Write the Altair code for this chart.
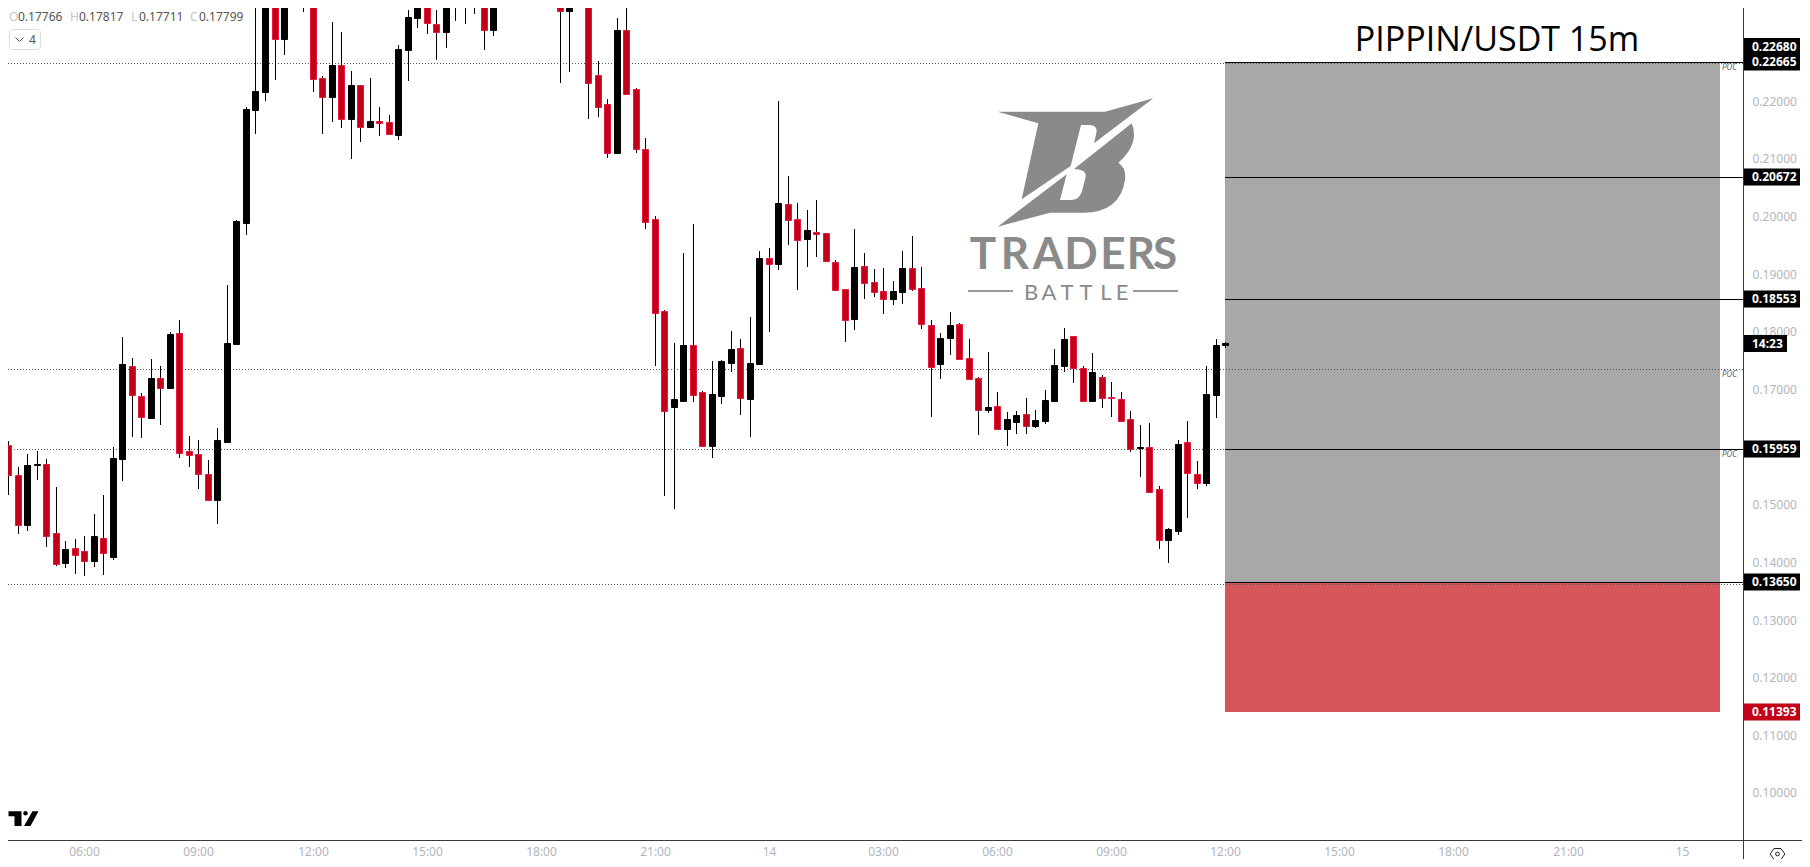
import altair as alt
import pandas as pd

# Prices are quoted in 1e-5 units
BARS = list(range(-9, 44)) + list(range(50, 121))
HIGH = [16705,16098,15647,15872,15925,15786,15300,14363,14398,14450,
        14831,15161,15994,17901,17537,16930,17520,17398,17988,18196,
        16184,16115,15768,16323,18804,19931,21891,23920,24181,24094,
        24267,24788,24961,24614,22429,23365,23192,22515,22273,22394,
        21891,21752,22966,23574,24094,24094,23574,24267,24788,24788,
        24614,24614,24527,
        24614,24614,24267,23886,22689,22030,23435,23920,22221,21353,20001,
        18370,17797,19359,19861,16965,17485,17502,18005,17867,18248,
        19393,19445,21995,20694,20226,20105,20278,19705,19237,18734,
        19775,19359,19081,19099,18873,19393,19654,19116,18196,17970,
        18335,18145,17867,17207,17641,16947,16601,16618,16843,16636,
        16982,17693,18058,17919,17398,17624,17242,17121,16947,16618,
        16375,16410,15317,14588,16115,16444,15751,17398,17867,17817]
BODY_TOP = [16705,16028,15508,15682,15699,15699,14502,14224,14241,14190,
        14450,14415,15803,17433,17398,16878,17190,17190,17953,17970,
        15925,15872,15525,16115,17797,19914,21856,22169,24007,24007,
        24094,24441,24614,24441,22394,22620,22620,22273,22273,21648,
        21648,21631,22897,23452,23920,23920,23331,24094,24441,24267,
        24267,24441,24267,
        24267,24267,24094,23678,22446,21943,23227,23227,22203,21163,19949,
        18352,16826,17763,17763,16947,16913,17485,17693,17711,17450,
        19272,19272,20226,20209,19949,19757,19723,19705,19203,18734,
        19116,19134,18855,18699,18699,19099,19099,18751,18110,17884,
        18110,18127,17537,17190,16688,16705,16479,16549,16566,16462,
        16809,17416,17867,17919,17364,17294,17207,16861,16826,16479,
        15994,15994,15265,14571,16046,16081,15525,16913,17763,17799]
BODY_BOTTOM = [16063,15508,14640,14640,15682,14450,13964,13982,14120,14016,
        14016,14155,14085,15786,16895,16514,16497,17017,17017,15890,
        15855,15525,15074,15074,16081,17780,19879,21839,22151,23070,
        23070,23834,23886,22377,22064,22064,21683,21683,21544,21544,
        21613,21423,21405,22880,23435,23348,23192,23192,23834,23834,
        23886,23227,23227,
        23556,23556,23660,22307,21891,21093,21093,22117,21163,19896,18318,
        16618,16688,16792,16895,16011,16011,16878,17450,16843,16826,
        17433,19168,19168,19931,19584,19601,19688,19220,18717,18196,
        18214,18838,18682,18560,18560,18682,18734,18127,17381,17433,
        17884,17520,17173,16636,16636,16306,16306,16427,16358,16358,
        16444,16792,17398,17364,16792,16792,16843,16843,16444,15959,
        15977,15213,14380,14380,14536,15542,15369,15369,16895,17766]
LOW = [16063,15161,14484,14536,15421,14259,13929,13894,13790,13755,
        13912,13773,14034,15404,16167,16150,16497,16375,17000,15803,
        15647,15265,15074,14657,16081,17780,19671,21423,21995,22359,
        22793,23626,23539,22151,21423,21631,21527,20989,21284,21527,
        21388,21405,21319,22342,23261,23157,22706,22914,23383,23331,
        23504,22880,23123,
        22307,22498,23660,21683,21717,21006,21093,22099,21093,19775,17398,
        15143,14918,16792,16774,16011,15803,16739,17294,16549,16167,
        17433,17988,19063,19497,18717,19116,19289,19203,18717,17815,
        18023,18560,18595,18300,18456,18474,18699,18040,16514,17173,
        17589,17520,17156,16202,16584,16288,16011,16219,16219,16323,
        16392,16792,17294,17104,16792,16792,16670,16514,16427,15907,
        15473,15195,14224,13982,14467,14761,15265,15317,16497,17711]
DIRECTION = list("RRRKKRRKRR" "KRKKRRKRKR" "RRRKKKKKKR" "KRKRRKRKRK" "RRKKKRRKRK" "RRK"
                 "RKRRRRKRRRR" "RKKRRKKKRK" "KRKRRKRRRR" "KRRRKKRRRK" "KRRRKRKKRK"
                 "KKKRRKRRRR" "KRRKKRRKKK")

TIME_TICKS = [0, 12, 24, 36, 48, 60, 72, 84, 96, 108, 120, 132, 144, 156, 168]
TIME_LABELS = ["06:00", "09:00", "12:00", "15:00", "18:00", "21:00", "14", "03:00",
               "06:00", "09:00", "12:00", "15:00", "18:00", "21:00", "15"]
PRICE_TICKS = [0.10, 0.11, 0.12, 0.13, 0.14, 0.15, 0.17, 0.18, 0.19, 0.20, 0.21, 0.22]

POS_TOP, POS_BOTTOM, LOSS = 0.22665, 0.13650, 0.11393
TARGETS = [0.22665, 0.20672, 0.18553, 0.15959, 0.13650]
DOTTED = [0.22655, 0.17341, 0.15959, 0.13622]
TAG_PRICES = ["0.22665", "0.20672", "0.18553", "0.15959", "0.13650"]
POC_PRICES = [0.22665, 0.17341, 0.15959]
BOX_START, BOX_END = 120, 172.03
XMIN, XMAX = -8.03, 174.45
YMIN, YMAX = 0.09176, 0.23608

n = len(BARS)
assert all(len(a) == n for a in (HIGH, BODY_TOP, BODY_BOTTOM, LOW, DIRECTION))
candles = pd.DataFrame({
    "bar": BARS,
    "high": [v * 1e-5 for v in HIGH],
    "top": [v * 1e-5 for v in BODY_TOP],
    "bottom": [v * 1e-5 for v in BODY_BOTTOM],
    "low": [v * 1e-5 for v in LOW],
    "dir": DIRECTION,
})

W, H = 1735, 832
PAD_R, PAD_B = 59, 19
xs = alt.Scale(domain=[XMIN, XMAX], round=True, nice=False, zero=False, padding=0)
ys = alt.Scale(domain=[YMIN, YMAX], round=True, nice=False, zero=False, padding=0)
TICK_GREY = "#b2b5be"
FONT = "Noto Sans"
one = pd.DataFrame({"k": [0]})

X_AXIS = alt.Axis(values=TIME_TICKS, labelExpr="%s[datum.value/12]" % str(TIME_LABELS),
                  domain=False, ticks=False, grid=False, labelColor=TICK_GREY, labelFont=FONT,
                  labelFontSize=12, labelPadding=6, labelOverlap=False, labelFlush=False,
                  labelAngle=0, title=None, orient="bottom")
Y_AXIS = alt.Axis(orient="right", values=PRICE_TICKS, format=".5f", domain=False, ticks=False,
                  grid=False, labelColor=TICK_GREY, labelFont=FONT, labelFontSize=12,
                  labelPadding=9, labelOverlap=False, labelFlush=False, labelAlign="left", title=None)


def X(field):
    return alt.X(field, type="quantitative", scale=xs, axis=X_AXIS)


def Y(field):
    return alt.Y(field, type="quantitative", scale=ys, axis=Y_AXIS)


def text(s, x, y, size=12, color="#000000", align="left", baseline="middle", font=FONT, **kw):
    return alt.Chart(one).mark_text(align=align, baseline=baseline, font=font, fontSize=size,
                                    color=color, **kw).encode(
        x=alt.value(x - 8), y=alt.value(y - 8), text=alt.value(s))


def shape(path, x, y, scale=1.0, **kw):
    return alt.Chart(one).mark_point(shape=path, size=(2 * scale) ** 2, opacity=1, **kw).encode(
        x=alt.value(x - 8), y=alt.value(y - 8))


# risk boxes
boxes = pd.DataFrame({"x": [BOX_START, BOX_START], "x2": [BOX_END, BOX_END],
                      "y": [POS_TOP, POS_BOTTOM], "y2": [POS_BOTTOM, LOSS],
                      "kind": ["zone", "stop"]})
box_layer = alt.Chart(boxes).mark_rect().encode(
    x=X("x"), x2="x2", y=Y("y"), y2="y2",
    color=alt.Color("kind:N", legend=None,
                    scale=alt.Scale(domain=["zone", "stop"], range=["#a8a8a8", "#d4565b"])),
)

dotted = alt.Chart(pd.DataFrame({"y": DOTTED, "x": [XMIN] * 4, "x2": [XMAX] * 4})).mark_rule(
    color="#555555", strokeWidth=1, strokeDash=[1, 2], yOffset=0.5).encode(
    x=X("x"), x2="x2", y=Y("y"))

solid = alt.Chart(pd.DataFrame({"y": TARGETS, "x": [BOX_START] * 5, "x2": [XMAX] * 5})).mark_rule(
    color="#000000", strokeWidth=1, yOffset=0.5).encode(
    x=X("x"), x2="x2", y=Y("y"))

wicks = alt.Chart(candles).mark_rule(color="#000000", strokeWidth=1, xOffset=0.5, clip=True).encode(
    x=X("bar"), y=Y("high"), y2="low")

dir_dom = ["R", "K"]
bodies = alt.Chart(candles).mark_bar(size=6, strokeWidth=1, xOffset=0.5, yOffset=0.5, y2Offset=0.5,
                                     clip=True).encode(
    x=X("bar"), y=Y("top"), y2="bottom",
    color=alt.Color("dir:N", legend=None, scale=alt.Scale(domain=dir_dom, range=["#c40018", "#000000"])),
    stroke=alt.Stroke("dir:N", legend=None, scale=alt.Scale(domain=dir_dom, range=["#e3193d", "#000000"])),
)

# chrome lines
axis_v = alt.Chart(one).mark_rule(color="#3a3a3a", strokeWidth=1).encode(
    x=alt.value(W + 0.5), y=alt.value(0), y2=alt.value(H + PAD_B))
axis_h = alt.Chart(one).mark_rule(color="#3a3a3a", strokeWidth=1).encode(
    x=alt.value(0), x2=alt.value(W + PAD_R), y=alt.value(H + 0.5))

# price tags
tag_df = pd.DataFrame({"y": [float(t) for t in TAG_PRICES], "label": TAG_PRICES})
tag_x = dict(x=alt.value(W + 1), x2=alt.value(W + 57))
tags = alt.Chart(tag_df).mark_rule(color="#000000", strokeWidth=17).encode(y=Y("y"), **tag_x)
tag_text = alt.Chart(tag_df).mark_text(color="#ffffff", font=FONT, fontSize=12, fontWeight="bold",
                                       align="left", baseline="middle").encode(
    x=alt.value(W + 9), y=Y("y"), text="label:N")

loss_df = pd.DataFrame({"y": [LOSS], "label": ["0.11393"]})
loss_tag = alt.Chart(loss_df).mark_rule(color="#c40018", strokeWidth=17).encode(y=Y("y"), **tag_x)
loss_text = alt.Chart(loss_df).mark_text(color="#ffffff", font=FONT, fontSize=12, fontWeight="bold",
                                         align="left", baseline="middle").encode(
    x=alt.value(W + 9), y=Y("y"), text="label:N")

top_tag = alt.Chart(one).mark_rule(color="#000000", strokeWidth=17).encode(
    y=alt.value(38.5), **tag_x)
clock_tag = alt.Chart(one).mark_rule(color="#000000", strokeWidth=17).encode(
    x=alt.value(W + 1), x2=alt.value(W + 44), y=alt.value(335.5))

poc = alt.Chart(pd.DataFrame({"y": POC_PRICES, "x": [BOX_END + 0.2] * 3})).mark_text(
    text="POC", font=FONT, fontSize=8, fontStyle="italic", color="#666666",
    align="left", baseline="middle", dy=6).encode(x=X("x"), y=Y("y"))

# watermark logo (paths are in zoom pixels, 3 per screen pixel)
LOGO_TOP = ("M143,95 L465,95 L610,55 L432,190 L440,155 Q440,135 420,135 L393,135 L362,258 "
            "L215,358 L265,130 Z")
LOGO_BOTTOM = ("M143,440 L350,283 L330,360 L362,360 Q390,360 397,330 L407,290 Q410,268 372,267 "
               "L545,130 Q570,190 505,248 Q530,265 525,300 Q510,398 400,398 L300,398 Z")
LOGO_GREY = "#8a8a8a"
logo = [shape(LOGO_TOP, 950, 80, 1 / 3, filled=True, color=LOGO_GREY, strokeWidth=0),
        shape(LOGO_BOTTOM, 950, 80, 1 / 3, filled=True, color=LOGO_GREY, strokeWidth=0)]
TRADERS = list("TRADERS")
TRADERS_X = [983, 1015, 1048, 1081, 1113, 1141, 1165]
for ch, x in zip(TRADERS, TRADERS_X):
    logo.append(text(ch, x, 256, size=44, color=LOGO_GREY, align="center",
                     font="Lato", fontWeight="bold"))
BATTLE = list("BATTLE")
BATTLE_X = [1031, 1049, 1067, 1086, 1106, 1122]
for ch, x in zip(BATTLE, BATTLE_X):
    logo.append(text(ch, x, 292.5, size=22, color=LOGO_GREY, align="center", font="Lato"))
for a, b in ((968, 1013), (1133, 1178)):
    logo.append(alt.Chart(one).mark_rule(color="#9a9a9a", strokeWidth=2).encode(
        x=alt.value(a - 8), x2=alt.value(b - 8), y=alt.value(283)))

# header texts
hdr = []
for letter, lx, value, vx in (("O", 9, "0.17766", 18), ("H", 70, "0.17817", 79),
                              ("L", 131, "0.17711", 139), ("C", 190, "0.17799", 199)):
    hdr.append(text(letter, lx, 17, color="#c8c8c8"))
    hdr.append(text(value, vx, 17, color="#555555"))

btn = alt.Chart(one).mark_rect(fill="#ffffff", stroke="#dddddd", strokeWidth=1, cornerRadius=3).encode(
    x=alt.value(1.5), x2=alt.value(32.5), y=alt.value(21.5), y2=alt.value(41.5))
chevron = shape("M-4,-2 L0,2 L4,-2", 19.5, 39.5, 1, filled=False, color="#555555", strokeWidth=1)
btn_txt = text("4", 29, 40, color="#555555", size=12)

title = text("PIPPIN/USDT 15m", 1497, 41, size=34, color="#000000", align="center", font="Open Sans")
clock = text("14:23", 1752, 344, color="#ffffff", fontWeight="bold")
top_lbl = text("0.22680", 1752, 47, color="#ffffff", fontWeight="bold")

TV = ("M-0.935,-0.465 L-0.097,-0.465 L-0.097,0.484 L-0.548,0.484 L-0.548,-0.142 L-0.935,-0.142 Z "
      "M0.613,-0.465 L1,-0.465 L0.484,0.484 L0.065,0.484 Z "
      "M0.013,-0.335 A0.148,0.148 0 1 0 0.309,-0.335 A0.148,0.148 0 1 0 0.013,-0.335 Z")
tv = shape(TV, 23, 818.5, 15.5, filled=True, color="#000000", strokeWidth=0)

gear = shape("M-7.3,0 L-3.5,-5.5 L3.5,-5.5 L7.3,0 L3.5,5.5 L-3.5,5.5 Z", 1777.5, 854, 1,
             filled=False, color="#222222", strokeWidth=1)
gear_c = alt.Chart(one).mark_point(shape="circle", size=14, filled=False, color="#222222",
                                   strokeWidth=1, opacity=1).encode(
    x=alt.value(1777.5 - 8), y=alt.value(854 - 8))

chart = alt.layer(
    box_layer, dotted, solid, wicks, bodies, axis_v, axis_h,
    tags, tag_text, loss_tag, loss_text, top_tag, clock_tag, poc,
    *logo, *hdr, btn, chevron, btn_txt, title, clock, top_lbl, tv, gear, gear_c,
).resolve_scale(color="independent", stroke="independent").properties(
    width=W, height=H,
    autosize=alt.AutoSizeParams(type="none"),
    padding={"left": 0, "top": 0, "right": PAD_R, "bottom": PAD_B},
    background="#ffffff",
).configure_view(stroke=None)

chart.save("out.html", embed_options={"renderer": "svg", "actions": False})
